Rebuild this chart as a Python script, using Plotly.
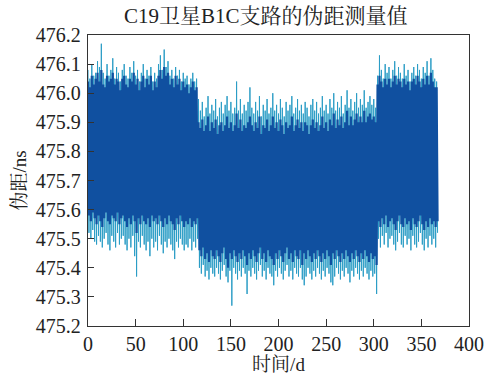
import plotly.graph_objects as go

# sample days (every 2 days)
days = list(range(0, 367, 2))

# outer (spike) envelope - upper
outer_hi = [
 476.08, 476.05, 476.10, 476.06, 476.07, 476.11, 476.09, 476.17, 476.07, 476.05,
 476.10, 476.06, 476.08, 476.12, 476.05, 476.09, 476.07, 476.04, 476.08, 476.10,
 476.06, 476.05, 476.09, 476.07, 476.11, 476.06, 476.08, 476.04, 476.07, 476.10,
 476.05, 476.08, 476.06, 476.09, 476.04, 476.07, 476.05, 476.10, 476.13, 476.08,
 476.15, 476.09, 476.11, 476.06, 476.08, 476.05, 476.09, 476.06, 476.08, 476.04,
 476.07, 476.05, 476.06, 476.03, 476.05, 476.07, 476.04, 476.05,
 475.98, 475.94, 475.97, 475.92, 475.95, 475.99, 475.93, 475.96, 475.94, 475.98,
 475.92, 475.95, 475.97, 475.93, 475.96, 475.99, 475.94, 475.97, 475.93, 475.95,
 476.04, 475.94, 475.98, 475.93, 475.96, 475.94, 475.97, 476.02, 475.95, 475.93,
 475.97, 475.94, 475.99, 475.92, 475.96, 475.94, 475.98, 475.93, 475.95, 476.00,
 475.94, 475.96, 475.93, 475.98, 475.95, 475.92, 475.97, 475.94, 475.96, 475.99,
 475.93, 475.95, 475.98, 475.94, 475.96, 475.93, 475.97, 475.95, 475.92, 475.96,
 475.98, 475.94, 475.97, 475.93, 475.95, 475.99, 475.94, 475.96, 475.93, 475.98,
 475.95, 476.00, 475.94, 475.97, 475.95, 475.99, 475.93, 475.96, 476.01, 475.95,
 475.98, 475.94, 475.97, 476.00, 475.95, 475.98, 475.96, 476.01, 475.95, 475.97,
 475.99, 475.96, 475.98, 475.95,
 476.06, 476.13, 476.08, 476.05, 476.10, 476.07, 476.09, 476.05, 476.08, 476.11,
 476.06, 476.09, 476.07, 476.05, 476.10, 476.06, 476.08, 476.04, 476.07, 476.09,
 476.06, 476.10, 476.08, 476.05, 476.09, 476.07, 476.11, 476.06, 476.12, 476.08,
 476.05, 476.04]

# dense core envelope - upper
core_hi = [
 476.04, 476.02, 476.06, 476.03, 476.05, 476.07, 476.04, 476.08, 476.03, 476.02,
 476.06, 476.04, 476.05, 476.07, 476.03, 476.05, 476.04, 476.01, 476.05, 476.06,
 476.03, 476.02, 476.05, 476.04, 476.07, 476.03, 476.05, 476.01, 476.04, 476.06,
 476.02, 476.05, 476.03, 476.06, 476.01, 476.04, 476.02, 476.06, 476.08, 476.05,
 476.09, 476.06, 476.07, 476.03, 476.05, 476.02, 476.06, 476.03, 476.05, 476.01,
 476.04, 476.02, 476.03, 476.00, 476.02, 476.04, 476.01, 476.02,
 475.90, 475.88, 475.91, 475.87, 475.89, 475.92, 475.87, 475.90, 475.88, 475.91,
 475.86, 475.89, 475.90, 475.87, 475.89, 475.92, 475.88, 475.90, 475.87, 475.89,
 475.93, 475.88, 475.91, 475.87, 475.89, 475.88, 475.90, 475.92, 475.89, 475.87,
 475.90, 475.88, 475.92, 475.86, 475.89, 475.88, 475.91, 475.87, 475.89, 475.92,
 475.88, 475.90, 475.87, 475.91, 475.89, 475.86, 475.90, 475.88, 475.89, 475.92,
 475.87, 475.89, 475.91, 475.88, 475.90, 475.87, 475.90, 475.89, 475.86, 475.89,
 475.91, 475.88, 475.90, 475.87, 475.89, 475.92, 475.88, 475.90, 475.87, 475.91,
 475.89, 475.93, 475.88, 475.91, 475.89, 475.92, 475.88, 475.90, 475.94, 475.89,
 475.92, 475.89, 475.91, 475.93, 475.90, 475.92, 475.90, 475.94, 475.90, 475.92,
 475.93, 475.91, 475.92, 475.90,
 476.03, 476.06, 476.04, 476.02, 476.05, 476.03, 476.05, 476.02, 476.04, 476.06,
 476.03, 476.05, 476.04, 476.02, 476.05, 476.03, 476.04, 476.01, 476.04, 476.05,
 476.03, 476.06, 476.04, 476.02, 476.05, 476.03, 476.06, 476.03, 476.07, 476.04,
 476.02, 476.02]

# dense core envelope - lower
core_lo = [
 475.58, 475.56, 475.59, 475.57, 475.55, 475.58, 475.56, 475.54, 475.57, 475.59,
 475.56, 475.55, 475.58, 475.57, 475.56, 475.59, 475.55, 475.57, 475.58, 475.56,
 475.54, 475.57, 475.55, 475.58, 475.56, 475.52, 475.57, 475.55, 475.58, 475.56,
 475.55, 475.57, 475.54, 475.58, 475.56, 475.57, 475.55, 475.58, 475.56, 475.54,
 475.57, 475.55, 475.58, 475.56, 475.55, 475.53, 475.57, 475.55, 475.58, 475.56,
 475.54, 475.56, 475.55, 475.57, 475.54, 475.56, 475.55, 475.57,
 475.46, 475.44, 475.47, 475.43, 475.45, 475.42, 475.46, 475.44, 475.43, 475.46,
 475.44, 475.42, 475.45, 475.47, 475.43, 475.40, 475.45, 475.43, 475.46, 475.44,
 475.42, 475.45, 475.43, 475.46, 475.44, 475.41, 475.45, 475.43, 475.46, 475.44,
 475.42, 475.45, 475.47, 475.43, 475.45, 475.42, 475.46, 475.44, 475.43, 475.41,
 475.45, 475.43, 475.46, 475.44, 475.42, 475.45, 475.47, 475.43, 475.45, 475.42,
 475.46, 475.44, 475.43, 475.46, 475.41, 475.45, 475.43, 475.46, 475.44, 475.42,
 475.45, 475.43, 475.46, 475.44, 475.42, 475.45, 475.43, 475.46, 475.44, 475.41,
 475.45, 475.43, 475.46, 475.44, 475.42, 475.45, 475.43, 475.46, 475.44, 475.42,
 475.45, 475.43, 475.46, 475.44, 475.42, 475.45, 475.43, 475.46, 475.44, 475.42,
 475.45, 475.43, 475.44, 475.41,
 475.56, 475.54, 475.57, 475.55, 475.58, 475.54, 475.56, 475.57, 475.55, 475.53,
 475.56, 475.58, 475.55, 475.54, 475.57, 475.55, 475.56, 475.53, 475.57, 475.55,
 475.54, 475.56, 475.58, 475.55, 475.53, 475.56, 475.54, 475.57, 475.55, 475.56,
 475.54, 475.56]

# outer (spike) envelope - lower
outer_lo = [
 475.52, 475.50, 475.53, 475.49, 475.48, 475.51, 475.49, 475.47, 475.50, 475.52,
 475.48, 475.46, 475.51, 475.49, 475.47, 475.52, 475.48, 475.50, 475.51, 475.48,
 475.46, 475.50, 475.47, 475.51, 475.44, 475.37, 475.49, 475.47, 475.51, 475.48,
 475.46, 475.49, 475.44, 475.50, 475.47, 475.49, 475.46, 475.51, 475.48, 475.45,
 475.49, 475.47, 475.50, 475.48, 475.46, 475.43, 475.49, 475.47, 475.50, 475.48,
 475.46, 475.48, 475.47, 475.50, 475.46, 475.49, 475.47, 475.50,
 475.40, 475.38, 475.41, 475.37, 475.39, 475.36, 475.40, 475.38, 475.37, 475.40,
 475.38, 475.36, 475.39, 475.41, 475.37, 475.35, 475.39, 475.27, 475.40, 475.38,
 475.36, 475.39, 475.37, 475.40, 475.38, 475.31, 475.39, 475.37, 475.40, 475.38,
 475.36, 475.39, 475.41, 475.37, 475.39, 475.36, 475.40, 475.38, 475.37, 475.34,
 475.39, 475.37, 475.40, 475.38, 475.36, 475.39, 475.41, 475.37, 475.39, 475.36,
 475.40, 475.38, 475.37, 475.40, 475.36, 475.34, 475.37, 475.40, 475.38, 475.36,
 475.39, 475.37, 475.40, 475.38, 475.36, 475.39, 475.37, 475.40, 475.38, 475.35,
 475.34, 475.37, 475.40, 475.38, 475.36, 475.39, 475.37, 475.40, 475.38, 475.35,
 475.39, 475.37, 475.40, 475.38, 475.36, 475.39, 475.37, 475.40, 475.38, 475.36,
 475.39, 475.37, 475.38, 475.31,
 475.50, 475.47, 475.51, 475.48, 475.52, 475.47, 475.50, 475.51, 475.48, 475.46,
 475.49, 475.52, 475.48, 475.47, 475.51, 475.48, 475.50, 475.46, 475.51, 475.48,
 475.47, 475.49, 475.52, 475.48, 475.46, 475.50, 475.47, 475.51, 475.48, 475.50,
 475.47, 475.52]

x_ticks = [0, 50, 100, 150, 200, 250, 300, 350, 400]
y_ticks = [475.2, 475.3, 475.4, 475.5, 475.6, 475.7, 475.8, 475.9, 476.0, 476.1, 476.2]


def zigzag(hi, lo):
    xs, ys = [], []
    for d, h, l in zip(days, hi, lo):
        xs += [d, d + 1]
        ys += [h, l]
    return xs, ys


FONT = "Liberation Serif, Noto Serif CJK SC, Noto Sans CJK SC, serif"

fig = go.Figure()
ox, oy = zigzag(outer_hi, outer_lo)
cx, cy = zigzag(core_hi, core_lo)
fig.add_trace(go.Scatter(x=ox, y=oy, mode="lines",
                         line=dict(color="#2b9dc6", width=1.0), showlegend=False))
fig.add_trace(go.Scatter(x=cx, y=cy, mode="lines",
                         line=dict(color="#1050a0", width=2.2), showlegend=False))

axis_common = dict(showline=True, mirror=True, linecolor="#333", linewidth=1.3,
                   ticks="inside", tickcolor="#333", tickwidth=1.3,
                   showgrid=False, zeroline=False, automargin=False,
                   tickfont=dict(family=FONT, size=20, color="#222"))

fig.update_xaxes(range=[0, 400], tickvals=x_ticks, ticklen=7,
                 title=dict(text="时间/d", font=dict(family=FONT, size=19, color="#222"), standoff=0),
                 **axis_common)
fig.update_yaxes(range=[475.2, 476.2], tickvals=y_ticks, tickformat=".1f", ticklen=6,
                 ticklabelstandoff=2,
                 title=dict(text="伪距/ns", font=dict(family=FONT, size=19, color="#222"), standoff=4),
                 **axis_common)

fig.update_layout(
    width=485, height=375,
    margin=dict(l=88, r=16, t=35, b=49),
    paper_bgcolor="white", plot_bgcolor="white",
    title=dict(text="C19卫星B1C支路的伪距测量值", x=0.548, xanchor="center",
               y=0.958, yanchor="middle",
               font=dict(family=FONT, size=21, color="#222")),
)

fig.write_html("out.html")
